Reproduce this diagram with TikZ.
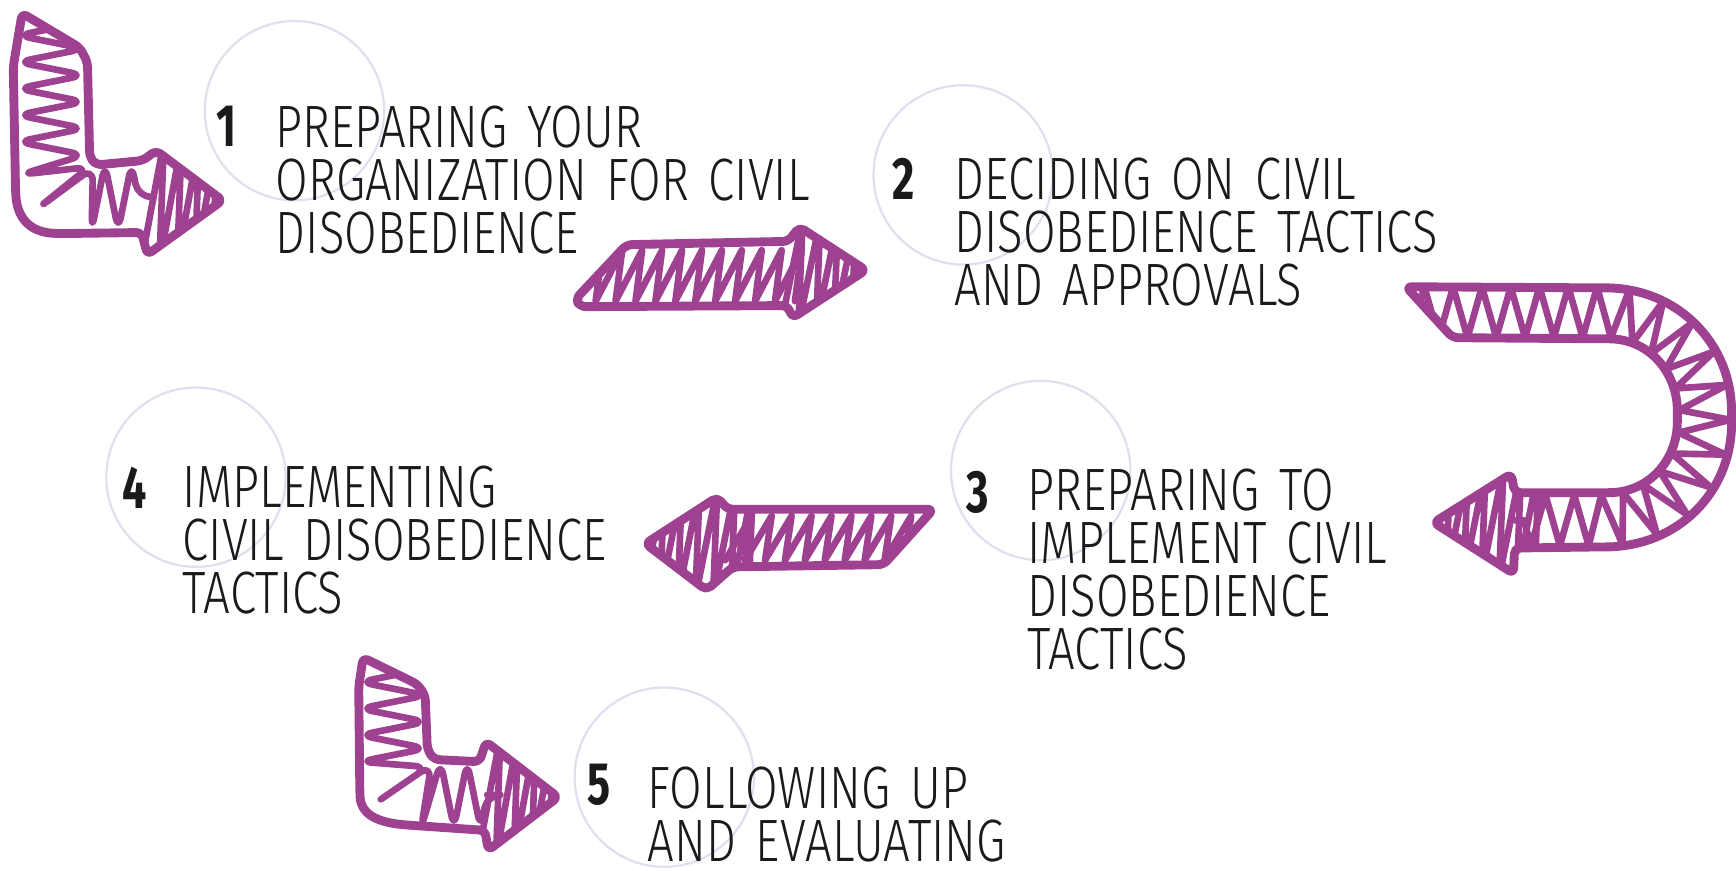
\documentclass[tikz,border=0pt]{standalone}
\usepackage{fontspec}
\newfontfamily\handfont{Fira Sans Light}[FakeStretch=0.79,WordSpace=1.5]
\newfontfamily\numfont{Fira Sans}[FakeStretch=0.72]
\usetikzlibrary{decorations.pathmorphing}
\definecolor{arrowpurple}{RGB}{157,65,144}
\definecolor{ringcol}{RGB}{226,222,240}
\definecolor{inkcol}{RGB}{26,26,26}
\begin{document}
\begin{tikzpicture}[x=1pt,y=-1pt,
  outl/.style={draw=arrowpurple,line width=8pt,line join=round,rounded corners=5pt},
  scrib/.style={draw=arrowpurple,line width=6pt,line join=round,line cap=round},
  ring/.style={draw=ringcol,line width=2pt,circle,minimum size=162pt,inner sep=0pt},
  lbl/.style={anchor=base west,inner sep=0pt,align=left,text=inkcol,font=\handfont\fontsize{54}{48}\selectfont},
  num/.style={anchor=base west,inner sep=0pt,text=inkcol,font=\numfont\bfseries\fontsize{54}{54}\selectfont}]
\fill[white] (0,0) rectangle (1568,786);
\path[use as bounding box] (0,0) rectangle (1568,786);

% rings
\node[ring] (c1) at (266,100) {};
\node[ring] (c2) at (870,158) {};
\node[ring] (c3) at (940,425) {};
\node[ring] (c4) at (177,431) {};
\node[ring] (c5) at (600,702) {};

% ---- arrow 1 (down then right)
\def\outA{(20,12) -- (72,43) -- (79,56) -- (81,142) -- (87,149) -- (129,145) -- (141,136) -- (201,181) -- (133,230) -- (128,210) -- (55,211) .. controls (25,210) and (15,195) .. (14,170) -- (12,60) -- cycle}
\begin{scope}
\clip[rounded corners=5pt] \outA;
\draw[scrib,rounded corners=12pt,decorate,decoration={zigzag,segment length=24pt,amplitude=30pt}] (46,14) -- (46,150) -- (62,178) -- (135,178);
\draw[scrib] (128,235) \foreach \x in {128,144,...,200} { -- (\x+20,128) -- (\x+16,238) };
\end{scope}
\draw[outl] \outA;

% ---- arrow 2 (right)
\def\outB{(566,221) -- (712,218) -- (722,205) -- (782,244) -- (716,287) -- (711,276) -- (524,277) -- (520,270) -- cycle}
\begin{scope}
\clip[rounded corners=5pt] \outB;
\draw[scrib] (520,272) \foreach \x in {520,538,...,700} { -- (\x+24,226) -- (\x+18,272) };
\draw[scrib] (705,295) \foreach \x in {705,721,...,780} { -- (\x+20,198) -- (\x+16,295) };
\end{scope}
\draw[outl] \outB;

% ---- arrow 3 (U-turn)
\def\outC{(1270,259) -- (1445,260) .. controls (1515,260) and (1564,310) .. (1564,377) .. controls (1564,445) and (1515,494) .. (1445,494) -- (1368,495) -- (1367,518) -- (1295,472) -- (1365,428) -- (1368,445) -- (1448,445) .. controls (1490,445) and (1515,415) .. (1515,376) .. controls (1515,337) and (1490,306) .. (1448,306) -- (1312,305) -- cycle}
\begin{scope}
\clip[rounded corners=5pt] \outC;
\draw[scrib,decorate,decoration={zigzag,segment length=26pt,amplitude=23pt}] (1280,282) -- (1447,282) .. controls (1500,282) and (1540,322) .. (1540,377) .. controls (1540,430) and (1500,470) .. (1447,470) -- (1368,470);
\draw[scrib] (1290,520) \foreach \x in {1290,1306,...,1370} { -- (\x+20,422) -- (\x+16,522) };
\end{scope}
\draw[outl] \outC;

% ---- arrow 4 (left)
\def\outD{(657,460) -- (843,460) -- (798,510) -- (662,512) -- (638,533) -- (583,491) -- (648,449) -- cycle}
\begin{scope}
\clip[rounded corners=5pt] \outD;
\draw[scrib] (655,506) \foreach \x in {655,673,...,835} { -- (\x+24,466) -- (\x+18,506) };
\draw[scrib] (580,540) \foreach \x in {580,596,...,660} { -- (\x+20,440) -- (\x+16,540) };
\end{scope}
\draw[outl] \outD;

% ---- arrow 5 (down then right)
\def\outE{(328,594) -- (377,618) -- (384,628) -- (386,677) -- (392,686) -- (433,688) -- (439,670) -- (504,720) -- (441,768) -- (438,750) -- (365,745) .. controls (340,742) and (326,735) .. (325,715) -- (324,620) -- cycle}
\begin{scope}
\clip[rounded corners=5pt] \outE;
\draw[scrib,rounded corners=12pt,decorate,decoration={zigzag,segment length=24pt,amplitude=30pt}] (355,598) -- (355,700) -- (372,718) -- (440,718);
\draw[scrib] (432,772) \foreach \x in {432,448,...,505} { -- (\x+20,664) -- (\x+16,774) };
\end{scope}
\draw[outl] \outE;

% ---- texts (anchored at the baseline of the last line)
\node[num] (n1) at (195,132) {1};
\node[lbl] (t1) at (249,229) {PREPARING YOUR\\ORGANIZATION FOR CIVIL\\DISOBEDIENCE};
\node[num] (n2) at (806,180) {2};
\node[lbl] (t2) at (862,276) {DECIDING ON CIVIL\\DISOBEDIENCE TACTICS\\AND APPROVALS};
\node[num] (n3) at (873,463) {3};
\node[lbl] (t3) at (928,605) {PREPARING TO\\IMPLEMENT CIVIL\\DISOBEDIENCE\\TACTICS};
\node[num] (n4) at (110,459) {4};
\node[lbl] (t4) at (165,554) {IMPLEMENTING\\CIVIL DISOBEDIENCE\\TACTICS};
\node[num] (n5) at (530,727) {5};
\node[lbl] (t5) at (585,778) {FOLLOWING UP\\AND EVALUATING};
\end{tikzpicture}
\end{document}
